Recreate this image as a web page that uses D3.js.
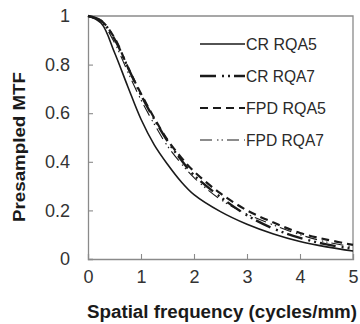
<!DOCTYPE html>
<html lang="en">
<head>
    <meta charset="UTF-8">
    <title>Presampled MTF</title>
    <script src="https://d3js.org/d3.v7.min.js"></script>
    <style>
        body { margin: 0; background: #fff; }
        text { font-family: "Liberation Sans", Arial, sans-serif; }
    </style>
</head>
<body>
<script>
    var width = 360;
    var height = 324;

    // spatial frequency (cycles/mm)
    var freq = [0, 0.25, 0.5, 0.75, 1, 1.25, 1.5, 1.75, 2, 2.5, 3, 3.5, 4, 4.5, 5];

    var cr_rqa5 = [1, 0.97, 0.85, 0.71, 0.575, 0.47, 0.39, 0.32, 0.265, 0.195, 0.143, 0.103, 0.072, 0.05, 0.033];
    var cr_rqa7 = [1, 0.98, 0.905, 0.79, 0.675, 0.575, 0.485, 0.41, 0.345, 0.255, 0.18, 0.125, 0.087, 0.06, 0.042];
    var fpd_rqa5 = [1, 0.98, 0.91, 0.79, 0.68, 0.58, 0.49, 0.42, 0.36, 0.27, 0.2, 0.15, 0.107, 0.08, 0.058];
    var fpd_rqa7 = [1, 0.975, 0.89, 0.77, 0.655, 0.555, 0.465, 0.395, 0.335, 0.245, 0.185, 0.14, 0.1, 0.07, 0.05];

    var series_names = ["CR RQA5", "CR RQA7", "FPD RQA5", "FPD RQA7"];
    var series_values = [cr_rqa5, cr_rqa7, fpd_rqa5, fpd_rqa7];

    var x_ticks = [0, 1, 2, 3, 4, 5];
    var y_ticks = [0, 0.2, 0.4, 0.6, 0.8, 1];

    // line styles per series, and the width each legend label takes
    var styles = [
        {width: 1.6, dash: null, label: 71},
        {width: 2.4, dash: "16,6,2,4,2,4", label: 69},
        {width: 2.2, dash: "8,5", label: 80},
        {width: 1.1, dash: "12,5,1.5,3,1.5,4", label: 78}
    ];

    var svg = d3.select("body").append("svg")
        .attr("width", width)
        .attr("height", height);

    var x_scale = d3.scaleLinear().domain([0, 5]).range([88, 353]);
    var y_scale = d3.scaleLinear().domain([0, 1]).range([259, 16]);

    var axis_color = "#8a8a8a";

    // frame (top and right)
    svg.append("path")
        .attr("d", "M" + x_scale(0) + "," + y_scale(1) + "H" + x_scale(5) + "V" + y_scale(0))
        .attr("fill", "none")
        .attr("stroke", axis_color)
        .attr("stroke-width", 1.3);

    var x_axis = svg.append("g")
        .attr("transform", "translate(0," + y_scale(0) + ")")
        .call(d3.axisBottom(x_scale).tickValues(x_ticks).tickSize(-5).tickFormat(d3.format("d")));

    var y_axis = svg.append("g")
        .attr("transform", "translate(" + x_scale(0) + ",0)")
        .call(d3.axisLeft(y_scale).tickValues(y_ticks).tickSize(-5).tickFormat(function (d) { return d3.format("")(d) }));

    [x_axis, y_axis].forEach(function (ax) {
        ax.select(".domain").attr("stroke", axis_color).attr("stroke-width", 1.3);
        ax.selectAll(".tick line").attr("stroke", axis_color).attr("stroke-width", 1.1);
        ax.selectAll(".tick text")
            .attr("fill", "#333")
            .attr("font-size", "18px")
            .attr("font-family", "Liberation Sans, Arial, sans-serif");
    });
    x_axis.selectAll(".tick text").attr("y", 11);
    y_axis.selectAll(".tick text").attr("x", -18);
    // the end ticks sit on the axis / frame
    x_axis.selectAll(".tick line").filter(function (d) { return d == 0 || d == 5 }).remove();
    y_axis.selectAll(".tick line").filter(function (d) { return d == 0 || d == 1 }).remove();

    var line = d3.line()
        .x(function (d, i) { return x_scale(freq[i]) })
        .y(function (d) { return y_scale(d) })
        .curve(d3.curveCatmullRom.alpha(0.5));

    for (var i = 0; i < series_values.length; i++) {
        svg.append("path")
            .attr("d", line(series_values[i]))
            .attr("fill", "none")
            .attr("stroke", "#1a1a1a")
            .attr("stroke-width", styles[i].width)
            .attr("stroke-dasharray", styles[i].dash);
    }

    // legend
    var legend = svg.append("g");
    for (var i = 0; i < series_names.length; i++) {
        var ly = 44 + i * 32;
        legend.append("line")
            .attr("x1", 200).attr("x2", 245)
            .attr("y1", ly).attr("y2", ly)
            .attr("stroke", "#1a1a1a")
            .attr("stroke-width", styles[i].width)
            .attr("stroke-dasharray", styles[i].dash);
        legend.append("text")
            .attr("x", 246)
            .attr("y", ly)
            .attr("dy", "0.35em")
            .attr("font-size", "17px")
            .attr("fill", "#2a2a2a")
            .attr("textLength", styles[i].label)
            .attr("lengthAdjust", "spacingAndGlyphs")
            .text(series_names[i]);
    }

    // axis titles
    svg.append("text")
        .attr("x", 222)
        .attr("y", 318)
        .attr("text-anchor", "middle")
        .attr("font-size", "18px")
        .attr("font-weight", "bold")
        .attr("fill", "#1a1a1a")
        .attr("textLength", 270)
        .attr("lengthAdjust", "spacingAndGlyphs")
        .text("Spatial frequency (cycles/mm)");

    svg.append("text")
        .attr("transform", "translate(25,147) rotate(-90)")
        .attr("text-anchor", "middle")
        .attr("font-size", "17px")
        .attr("font-weight", "bold")
        .attr("fill", "#1a1a1a")
        .attr("textLength", 150)
        .attr("lengthAdjust", "spacingAndGlyphs")
        .text("Presampled MTF");
</script>
</body>
</html>
